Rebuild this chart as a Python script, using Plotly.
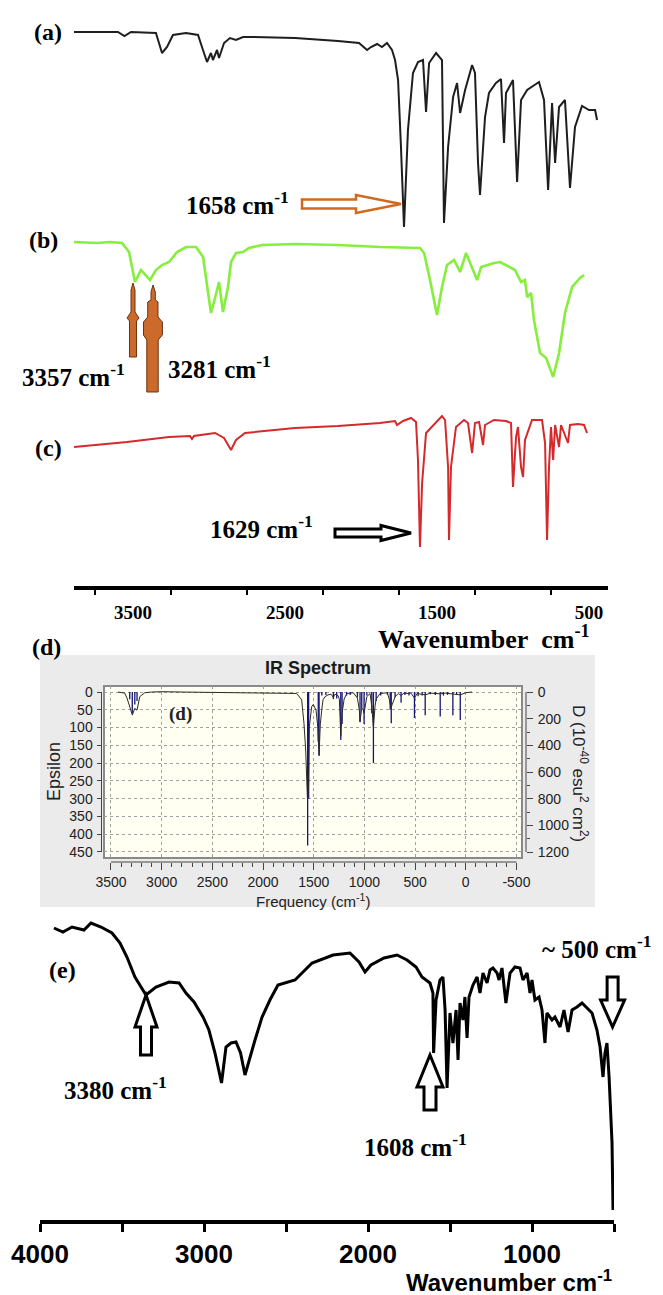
import plotly.graph_objects as go

# ------------------------------------------------------------------
# DATA
# ------------------------------------------------------------------
# Panel (a) - black FTIR trace (wavenumber cm-1, transmittance a.u.)
a_wn = [3888, 3599, 3556, 3513, 3349, 3309, 3276, 3237, 3151, 3072, 3046, 3013, 2987, 2974, 2947,
        2934, 2901, 2862, 2822, 2776, 2710, 2434, 2151, 2013, 1960, 1934, 1894, 1862, 1829, 1796,
        1776, 1756, 1737, 1717, 1691, 1658, 1625, 1592, 1572, 1552, 1506, 1467, 1454, 1427, 1394,
        1368, 1348, 1315, 1269, 1250, 1230, 1217, 1184, 1158, 1112, 1079, 1059, 1046, 1000, 973,
        947, 907, 829, 796, 769, 743, 723, 697, 658, 625, 592, 546, 500, 460, 447]
a_t = [556, 556, 552, 556, 555, 535, 541, 553, 555, 553, 541, 526, 535, 528, 538,
       530, 545, 550, 548, 551, 551, 550, 547, 545, 538, 541, 544, 541, 545, 538,
       528, 508, 441, 361, 458, 515, 526, 528, 476, 525, 535, 528, 365, 441, 491,
       505, 475, 498, 523, 515, 425, 393, 471, 495, 505, 509, 445, 495, 508, 406,
       488, 498, 506, 488, 398, 485, 425, 481, 488, 400, 461, 482, 478, 478, 468]

# Panel (b) - green trace
b_wn = [3888, 3737, 3651, 3572, 3526, 3487, 3447, 3388, 3349, 3309, 3263, 3210, 3151, 3085, 3039,
        3013, 2987, 2960, 2934, 2908, 2875, 2855, 2822, 2776, 2737, 2651, 2434, 2151, 1875, 1612,
        1585, 1546, 1500, 1467, 1434, 1388, 1348, 1309, 1283, 1236, 1210, 1171, 1125, 1085, 1046,
        987, 947, 921, 907, 881, 862, 822, 782, 736, 697, 658, 611, 585, 559, 532]
b_t = [346, 345, 346, 345, 336, 306, 318, 308, 318, 323, 326, 336, 341, 341, 331,
       301, 275, 290, 306, 276, 301, 326, 335, 336, 340, 343, 344, 343, 341, 340,
       335, 308, 273, 301, 323, 328, 316, 335, 325, 308, 321, 323, 325, 326, 323,
       318, 306, 308, 291, 295, 268, 235, 230, 211, 235, 275, 301, 306, 310, 313]

# Panel (c) - red trace
c_wn = [3888, 3539, 3263, 3125, 3112, 3099, 2960, 2901, 2855, 2822, 2763, 2434, 2151, 1875, 1776,
        1763, 1723, 1671, 1638, 1625, 1612, 1598, 1572, 1513, 1467, 1447, 1427, 1421, 1408, 1375,
        1322, 1296, 1269, 1250, 1223, 1197, 1184, 1125, 1046, 1013, 1000, 980, 967, 947, 934,
        921, 875, 809, 789, 776, 763, 750, 736, 723, 697, 684, 638, 625, 572, 533, 513]
c_t = [141, 146, 151, 152, 149, 152, 155, 150, 138, 148, 155, 160, 162, 165, 167,
       163, 167, 170, 166, 128, 41, 105, 155, 165, 172, 168, 121, 48, 121, 161,
       168, 165, 135, 165, 166, 143, 163, 168, 167, 165, 101, 151, 161, 121, 111,
       148, 168, 168, 145, 48, 121, 161, 128, 163, 141, 163, 145, 163, 164, 163, 155]

# Panel (d) - computed IR spectrum (broadened curve + stick lines)
d_freq = [3431, 3365, 3342, 3315, 3289, 3266, 3243, 3216, 3167, 3100, 3000, 2800, 2500, 2300, 2000,
          1750, 1668, 1619, 1596, 1579, 1562, 1550, 1543, 1520, 1504, 1477, 1460, 1447, 1435, 1421,
          1408, 1388, 1359, 1330, 1306, 1290, 1260, 1247, 1233, 1220, 1200, 1174, 1109, 1069, 1050,
          1043, 1026, 1010, 1003, 976, 944, 927, 911, 895, 884, 845, 773, 755, 739, 725,
          697, 664, 638, 610, 581, 540, 506, 480, 400, 350, 252, 200, 127, 54, 0, -61]
d_eps = [0, 3, 17, 41, 65, 46, 51, 13, 2, 0, -1, 0, 1, 2, 2,
         3, 4, 22, 88, 163, 300, 260, 98, 41, 35, 51, 98, 177, 90, 51,
         22, 13, 8, 6, 15, 6, 10, 20, 125, 60, 20, 4, 2, 17, 50,
         83, 45, 50, 60, 13, 4, 40, 100, 40, 20, 4, 2, 20, 45, 35,
         13, 4, 10, 3, 4, 3, 17, 4, 8, 3, 5, 3, 6, 8, 2, 0]
stick_freq = [3315, 3290, 3265, 3243, 1560, 1550, 1455, 1447, 1420, 1380, 1306, 1273, 1233, 1220, 1175,
              1140, 1069, 1043, 1026, 1003, 976, 927, 911, 884, 839, 773, 745, 735, 697, 638,
              600, 560, 506, 470, 430, 400, 350, 300, 252, 220, 180, 127, 90, 54]
stick_eps = [20, 60, 35, 25, 432, 300, 140, 180, 10, 8, 20, 18, 135, 90, 10,
             8, 15, 85, 45, 90, 10, 60, 200, 25, 10, 8, 50, 88, 15, 30,
             8, 10, 73, 12, 10, 65, 6, 8, 69, 10, 8, 65, 8, 79]

# Panel (e) - experimental black trace
e_wn = [3915, 3860, 3805, 3732, 3689, 3628, 3561, 3512, 3470, 3421, 3354, 3293, 3213, 3152, 3110,
        3061, 3006, 2970, 2933, 2893, 2866, 2835, 2805, 2777, 2750, 2720, 2689, 2646, 2598, 2549,
        2445, 2341, 2213, 2110, 2055, 2018, 1982, 1902, 1823, 1762, 1707, 1671, 1646, 1622, 1604,
        1600, 1585, 1561, 1543, 1530, 1518, 1500, 1482, 1463, 1451, 1439, 1421, 1409, 1396, 1384,
        1360, 1335, 1317, 1299, 1274, 1256, 1238, 1213, 1201, 1183, 1159, 1134, 1104, 1073, 1055,
        1030, 1012, 1000, 982, 957, 939, 921, 909, 878, 860, 829, 805, 780, 756, 726,
        695, 665, 634, 604, 585, 567, 555, 543, 530, 512, 506]
e_t = [294, 290, 295, 292, 299, 295, 289, 279, 265, 245, 227, 235, 240, 239, 229,
       220, 205, 192, 169, 139, 175, 179, 180, 169, 147, 165, 182, 205, 222, 237,
       242, 259, 267, 269, 260, 250, 257, 264, 267, 262, 255, 245, 242, 239, 229,
       169, 222, 242, 245, 212, 134, 209, 179, 212, 162, 219, 202, 225, 184, 225,
       237, 245, 229, 249, 239, 252, 254, 249, 242, 254, 219, 249, 255, 254, 242,
       249, 229, 242, 222, 225, 212, 179, 209, 202, 205, 195, 212, 190, 212, 215,
       219, 214, 209, 192, 175, 145, 169, 179, 145, 79, 12]

top_tickvals = [3500, 2500, 1500, 500]
d_xticks = [3500, 3000, 2500, 2000, 1500, 1000, 500, 0, -500]
d_xticktext = ["3500", "3000", "2500", "2000", "1500", "1000", "500", "0", "-500"]
eps_ticks = [0, 50, 100, 150, 200, 250, 300, 350, 400, 450]
dip_ticks = [0, 200, 400, 600, 800, 1000, 1200]
e_tickvals = [4000, 3000, 2000, 1000]
e_minor = [3500, 2500, 1500, 500]

# ------------------------------------------------------------------
W, H = 663, 1295


def X(px):
    return px / W


def Y(py):
    return 1 - py / H


SERIF = "Liberation Serif, Times New Roman, serif"
SANS = "Liberation Sans, Arial, sans-serif"

fig = go.Figure()

# top panel
fig.add_trace(go.Scatter(x=a_wn, y=a_t, mode="lines", line=dict(color="#1e1e1e", width=2),
                         xaxis="x", yaxis="y", hoverinfo="skip"))
fig.add_trace(go.Scatter(x=b_wn, y=b_t, mode="lines", line=dict(color="#86EE3C", width=2.6),
                         xaxis="x", yaxis="y", hoverinfo="skip"))
fig.add_trace(go.Scatter(x=c_wn, y=c_t, mode="lines", line=dict(color="#D42A2C", width=2),
                         xaxis="x", yaxis="y", hoverinfo="skip"))

# panel (d)
sx, sy = [], []
for f, e in zip(stick_freq, stick_eps):
    sx += [f, f, None]
    sy += [0, e, None]
fig.add_trace(go.Scatter(x=sx, y=sy, mode="lines", line=dict(color="#14147a", width=1.3),
                         xaxis="x2", yaxis="y2", hoverinfo="skip"))
fig.add_trace(go.Scatter(x=d_freq, y=d_eps, mode="lines", line=dict(color="#2a2a2a", width=1),
                         xaxis="x2", yaxis="y2", hoverinfo="skip"))
# invisible helpers so the tick-only overlay axes are drawn
for xa, ya in (("x4", "y2"), ("x2", "y4"), ("x2", "y5")):
    fig.add_trace(go.Scatter(x=[1000], y=[0], mode="markers", marker=dict(opacity=0),
                             xaxis=xa, yaxis=ya, hoverinfo="skip"))

# panel (e)
fig.add_trace(go.Scatter(x=e_wn, y=e_t, mode="lines", line=dict(color="black", width=3),
                         xaxis="x3", yaxis="y3", hoverinfo="skip"))


def path_px(pts):
    return "M " + " L ".join(f"{X(x):.5f},{Y(y):.5f}" for x, y in pts) + " Z"


def block_arrow(tx, ty, direction, length, head_len, head_w, shaft_w):
    local = [(0, 0), (head_len, head_w / 2), (head_len, shaft_w / 2), (length, shaft_w / 2),
             (length, -shaft_w / 2), (head_len, -shaft_w / 2), (head_len, -head_w / 2)]
    pts = []
    for u, v in local:
        if direction == "right":
            pts.append((tx - u, ty + v))
        elif direction == "left":
            pts.append((tx + u, ty + v))
        elif direction == "up":
            pts.append((tx + v, ty + u))
        else:
            pts.append((tx + v, ty - u))
    return path_px(pts)


shapes = []
# (d) grey image background and plot frame
shapes.append(dict(type="rect", xref="paper", yref="paper", x0=X(40), x1=X(595), y0=Y(907), y1=Y(655),
                   fillcolor="#EBEBEB", line=dict(width=0), layer="below"))
shapes.append(dict(type="rect", xref="paper", yref="paper", x0=X(104), x1=X(522), y0=Y(858), y1=Y(686),
                   fillcolor="#FFFFF2", line=dict(color="#8a8a8a", width=2), layer="below"))
# (d) separated axis lines
shapes.append(dict(type="line", xref="paper", yref="y2", x0=X(101.5), x1=X(101.5), y0=0, y1=450,
                   line=dict(color="#444", width=1)))
shapes.append(dict(type="line", xref="paper", yref="y2", x0=X(526), x1=X(526), y0=0, y1=450,
                   line=dict(color="#444", width=1)))
shapes.append(dict(type="line", xref="x2", yref="paper", x0=3500, x1=-500, y0=Y(862), y1=Y(862),
                   line=dict(color="#444", width=1)))

# hollow block arrows
shapes.append(dict(type="path", xref="paper", yref="paper",
                   path=block_arrow(401, 204, "right", 99, 45, 18, 9),
                   line=dict(color="#D2691E", width=2.5), fillcolor="white"))
shapes.append(dict(type="path", xref="paper", yref="paper",
                   path=block_arrow(411, 533, "right", 76, 30, 15, 8),
                   line=dict(color="black", width=3), fillcolor="white"))
shapes.append(dict(type="path", xref="paper", yref="paper",
                   path=block_arrow(146, 995, "up", 60, 32, 22, 11),
                   line=dict(color="black", width=3), fillcolor="white"))
shapes.append(dict(type="path", xref="paper", yref="paper",
                   path=block_arrow(430, 1055, "up", 55, 32, 26, 12),
                   line=dict(color="black", width=3), fillcolor="white"))
shapes.append(dict(type="path", xref="paper", yref="paper",
                   path=block_arrow(612.6, 1027, "down", 50, 27, 24, 11),
                   line=dict(color="black", width=3), fillcolor="white"))

# orange filled "rocket" arrows in (b)
rocket1 = [(133, 283), (135, 290), (135, 312), (139, 318), (136.5, 321), (136.5, 357),
           (129.5, 357), (129.5, 321), (127, 318), (131, 312), (131, 290)]
rocket2 = [(153, 285), (155.3, 292), (155.3, 300), (158, 302), (158, 317), (162.4, 322),
           (162.4, 335), (158.2, 340), (158.2, 392), (146.8, 392), (146.8, 340), (143.5, 335),
           (143.5, 322), (147.7, 317), (147.7, 302), (151, 300), (151, 292)]
for r in (rocket1, rocket2):
    shapes.append(dict(type="path", xref="paper", yref="paper", path=path_px(r),
                       line=dict(color="#6b3410", width=1), fillcolor="#CC6A2C"))


def txt(s, x, y, size, family=SERIF, bold=True, xanchor="center", yanchor="middle", angle=0, color="black"):
    return dict(text=s, x=X(x), y=Y(y), xref="paper", yref="paper", showarrow=False,
                font=dict(family=family, size=size, color=color, weight="bold" if bold else "normal"),
                xanchor=xanchor, yanchor=yanchor, textangle=angle)


annotations = [
    txt("(a)", 48, 32, 24),
    txt("(b)", 43, 240, 24),
    txt("(c)", 48, 448, 24),
    txt("1658 cm<sup>-1</sup>", 184, 203, 25, xanchor="left"),
    txt("3357 cm<sup>-1</sup>", 20, 375, 25, xanchor="left"),
    txt("3281 cm<sup>-1</sup>", 166, 367, 25, xanchor="left"),
    txt("1629 cm<sup>-1</sup>", 208, 527, 25, xanchor="left"),
    txt("Wavenumber&nbsp; cm<sup>-1</sup>", 376, 637, 26, xanchor="left"),
    txt("(d)", 46, 647, 24),
    txt("(d)", 181, 714, 19, color="#222"),
    txt("IR Spectrum", 318, 668, 18, family=SANS, color="#1a1a1a"),
    txt("Frequency (cm<sup>-1</sup>)", 313, 900, 15, family=SANS, bold=False, color="#222"),
    txt("Epsilon", 54, 772, 18, family=SANS, bold=False, angle=-90, color="#222"),
    txt("D (10<sup>-40</sup> esu<sup>2</sup> cm<sup>2</sup>)", 580, 773, 17, family=SANS,
        bold=False, angle=90, color="#222"),
    txt("(e)", 62, 970, 24),
    txt("3380 cm<sup>-1</sup>", 62, 1088, 25, xanchor="left"),
    txt("1608 cm<sup>-1</sup>", 362, 1145, 25, xanchor="left"),
    txt("~ 500 cm<sup>-1</sup>", 540, 947, 25, xanchor="left"),
    txt("Wavenumber cm<sup>-1</sup>", 614, 1281, 24, family=SANS, xanchor="right"),
]

fig.update_layout(
    width=W, height=H, margin=dict(l=0, r=0, t=0, b=0, autoexpand=False),
    paper_bgcolor="white", plot_bgcolor="rgba(0,0,0,0)", showlegend=False,
    # top panel
    xaxis=dict(domain=[X(74), X(608)], range=[3888, 375], anchor="y", automargin=False,
               showline=True, linewidth=4, linecolor="black", showgrid=False, zeroline=False,
               tickmode="array", tickvals=top_tickvals, ticktext=[str(v) for v in top_tickvals],
               ticks="", ticklabelstandoff=6,
               tickfont=dict(family=SERIF, size=19, color="black", weight="bold"),
               minor=dict(ticks="outside", tick0=250, dtick=500, ticklen=5, tickwidth=2,
                          tickcolor="black", showgrid=False)),
    yaxis=dict(domain=[Y(586), Y(15)], range=[2, 573], anchor="x", visible=False, automargin=False),
    # panel (d) grid axes
    xaxis2=dict(domain=[X(104), X(522)], range=[3569, -555], anchor="y2", automargin=False,
                showgrid=True, gridcolor="#a0a0a0", griddash="3px,3px", gridwidth=1,
                tickmode="linear", tick0=0, dtick=500, showticklabels=False, ticks="",
                zeroline=False, showline=False),
    yaxis2=dict(domain=[Y(858), Y(686)], range=[467, -17], anchor="x2", automargin=False,
                showgrid=True, gridcolor="#a0a0a0", griddash="3px,3px", gridwidth=1,
                tickmode="linear", tick0=0, dtick=50, showticklabels=False, ticks="",
                zeroline=False, showline=False),
    xaxis4=dict(overlaying="x2", anchor="free", position=Y(862), side="bottom", automargin=False,
                range=[3569, -555], showgrid=False, zeroline=False, showline=False,
                tickmode="array", tickvals=d_xticks, ticktext=d_xticktext,
                ticks="outside", ticklen=7, tickwidth=1, tickcolor="#444", ticklabelstandoff=0,
                minor=dict(ticks="outside", tick0=0, dtick=100, ticklen=4, tickwidth=1, tickcolor="#444"),
                tickfont=dict(family=SANS, size=14, color="#222")),
    yaxis4=dict(overlaying="y2", anchor="free", position=X(101.5), side="left", automargin=False,
                range=[467, -17], showgrid=False, zeroline=False, showline=False,
                tickmode="array", tickvals=eps_ticks, ticks="outside", ticklen=5,
                tickcolor="#444", ticklabelstandoff=1,
                tickfont=dict(family=SANS, size=14, color="#222")),
    yaxis5=dict(overlaying="y2", anchor="free", position=X(526), side="right", automargin=False,
                range=[1245, -45], showgrid=False, zeroline=False, showline=False,
                tickmode="array", tickvals=dip_ticks, ticks="outside", ticklen=6,
                tickcolor="#444", ticklabelstandoff=2,
                minor=dict(ticks="outside", tick0=0, dtick=100, ticklen=3, tickcolor="#444"),
                tickfont=dict(family=SANS, size=14, color="#222")),
    # panel (e)
    xaxis3=dict(domain=[X(40), X(614)], range=[4000, 500], anchor="y3", automargin=False,
                showline=True, linewidth=4, linecolor="black", showgrid=False, zeroline=False,
                tickmode="array", tickvals=e_tickvals, ticktext=[str(v) for v in e_tickvals],
                ticks="outside", ticklen=8, tickwidth=3, tickcolor="black", ticklabelstandoff=0,
                minor=dict(tickmode="array", tickvals=e_minor, ticks="outside", ticklen=8,
                           tickwidth=3, tickcolor="black", showgrid=False),
                tickfont=dict(family=SANS, size=26, color="black", weight="bold")),
    yaxis3=dict(domain=[Y(1220), Y(900)], range=[2, 322], anchor="x3", visible=False, automargin=False),
    shapes=shapes,
    annotations=annotations,
)

fig.write_html(
    "out.html",
    config={"displayModeBar": False},
    post_script="document.body.style.margin='0';document.body.style.overflow='hidden';",
)
